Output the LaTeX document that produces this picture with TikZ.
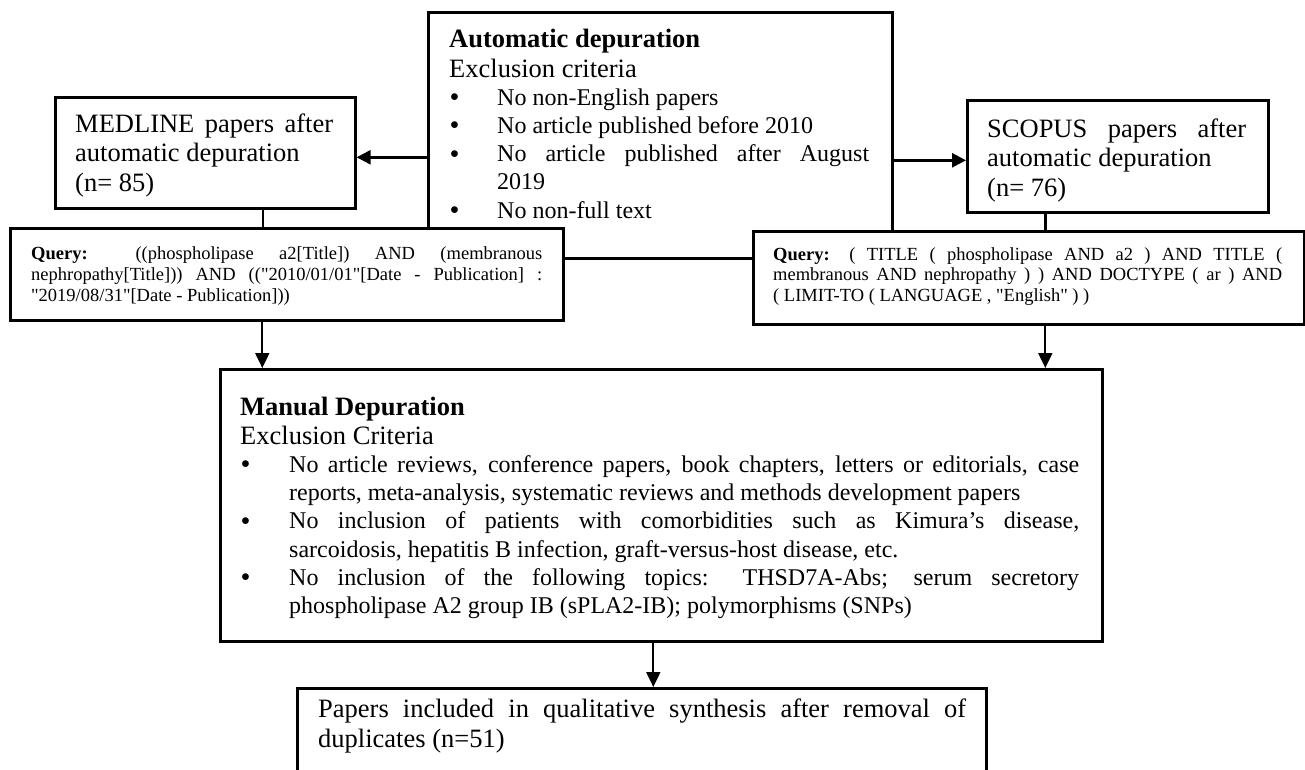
\documentclass[tikz,border=0pt]{standalone}
\usepackage{fontspec}
\usepackage{graphicx}
\setmainfont{Liberation Serif}[Ligatures=TeXOff]
\usetikzlibrary{arrows.meta}
\newcommand{\jl}[2]{\makebox[#1][s]{#2}}
\newcommand{\bul}[1]{\makebox[#1][l]{\hspace*{0.5pt}\raisebox{-1.3pt}{\scalebox{1.18}{•}}}}
\newcommand{\txtinit}{\setlength{\parindent}{0pt}\setlength{\parskip}{0pt}\spaceskip=0pt\relax\xspaceskip=0pt\relax}
\begin{document}
\begin{tikzpicture}[x=1pt,y=-1pt,
  box/.style={draw, line width=2.6pt, fill=white, inner sep=0pt, anchor=north west},
  txt/.style={anchor=north west, inner sep=0pt, text width=#1},
  arr/.style={line width=2.5pt, -{Triangle[length=14pt,width=14pt]}},
  arrthin/.style={line width=2pt, -{Triangle[length=15pt,width=14pt]}},
  link/.style={line width=2.5pt}]
\useasboundingbox (0,0) rectangle (1305,770);
\clip (0,0) rectangle (1305,770);

% Automatic depuration box
\node[box, minimum width=464pt, minimum height=246pt] (auto) at (427,11) {};
\node[txt=430pt] (autot) at (449,27) {\txtinit
  \fontsize{26.5}{30}\selectfont\rule{0pt}{20pt}\textbf{Automatic depuration}\par
  Exclusion criteria\par
  \fontsize{24}{28.2}\selectfont
  \bul{48pt}No non-English papers\par
  \bul{48pt}No article published before 2010\par
  \bul{48pt}\jl{372pt}{No article published after August}\par
  \hspace*{48pt}2019\par
  \bul{48pt}No non-full text\par};

% MEDLINE box
\node[box, minimum width=300pt, minimum height=111pt] (medline) at (54,96) {};
\node[txt=262pt] (medt) at (75,112) {\txtinit
  \fontsize{26.5}{29.5}\selectfont\rule{0pt}{20pt}\jl{258pt}{MEDLINE papers after}\par
  automatic depuration\par
  (n= 85)\par};

% SCOPUS box
\node[box, minimum width=301pt, minimum height=112pt] (scopus) at (966,99) {};
\node[txt=262pt] (scot) at (987,117) {\txtinit
  \fontsize{26.5}{29.5}\selectfont\rule{0pt}{20pt}\jl{259pt}{SCOPUS papers after}\par
  automatic depuration\par
  (n= 76)\par};

% MEDLINE query box
\node[box, minimum width=553pt, minimum height=92pt] (mq) at (9,227) {};
\node[txt=515pt] (mqt) at (31,245.5) {\txtinit
  \fontsize{18.5}{20.7}\selectfont\rule{0pt}{14pt}\jl{511pt}{\textbf{Query:} ((phospholipase a2[Title]) AND (membranous}\par
  \jl{511pt}{nephropathy[Title])) AND (("2010/01/01"[Date - Publication] :}\par
  "2019/08/31"[Date - Publication]))\par};

% SCOPUS query box
\node[box, minimum width=551pt, minimum height=93pt] (sq) at (752,230) {};
\node[txt=512pt] (sqt) at (773,246) {\txtinit
  \fontsize{18.5}{20.4}\selectfont\rule{0pt}{14pt}\jl{509pt}{\textbf{Query:} ( TITLE ( phospholipase AND a2 ) AND TITLE (}\par
  \jl{509pt}{membranous AND nephropathy ) ) AND DOCTYPE ( ar ) AND}\par
  ( LIMIT-TO ( LANGUAGE , "English" ) )\par};

% Manual depuration box
\node[box, minimum width=882pt, minimum height=272pt] (manual) at (219,368) {};
\node[txt=845pt] (mant) at (240,395) {\txtinit
  \fontsize{26.5}{29}\selectfont\rule{0pt}{20pt}\textbf{Manual Depuration}\par
  Exclusion Criteria\par
  \fontsize{24}{28.2}\selectfont
  \bul{49pt}\jl{790pt}{No article reviews, conference papers, book chapters, letters or editorials, case}\par
  \hspace*{49pt}reports, meta-analysis, systematic reviews and methods development papers\par
  \bul{49pt}\jl{790pt}{No inclusion of patients with comorbidities such as Kimura’s disease,}\par
  \hspace*{49pt}sarcoidosis, hepatitis B infection, graft-versus-host disease, etc.\par
  \bul{49pt}\jl{790pt}{No inclusion of the following topics: THSD7A-Abs; serum secretory}\par
  \hspace*{49pt}phospholipase A2 group IB (sPLA2-IB); polymorphisms (SNPs)\par};

% Final box
\node[box, minimum width=689pt, minimum height=113pt] (final) at (296,687) {};
\node[txt=655pt] (fint) at (318,697) {\txtinit
  \fontsize{26.5}{30}\selectfont\rule{0pt}{20pt}\jl{648pt}{Papers included in qualitative synthesis after removal of}\par
  duplicates (n=51)\par};

% connectors
\draw[arr] ([yshift=-4.5pt]auto.west |- medline.east) -- ([yshift=-4.5pt]medline.east);
\draw[arr] ([yshift=-4pt]auto.east |- scopus.west) -- ([yshift=-4pt]scopus.west);
\draw[link] ([xshift=57.5pt]medline.south) -- ([xshift=57.5pt]medline.south |- mq.north);
\draw[link] ([xshift=-72.5pt]scopus.south) -- ([xshift=-72.5pt]scopus.south |- sq.north);
\draw[arrthin] ([xshift=-24.5pt]mq.south) -- ([xshift=-24.5pt]mq.south |- manual.north);
\draw[arrthin] ([xshift=16.5pt]sq.south) -- ([xshift=16.5pt]sq.south |- manual.north);
\draw[arrthin] ([xshift=-8pt]manual.south) -- ([xshift=-8pt]manual.south |- final.north);
\end{tikzpicture}
\end{document}
